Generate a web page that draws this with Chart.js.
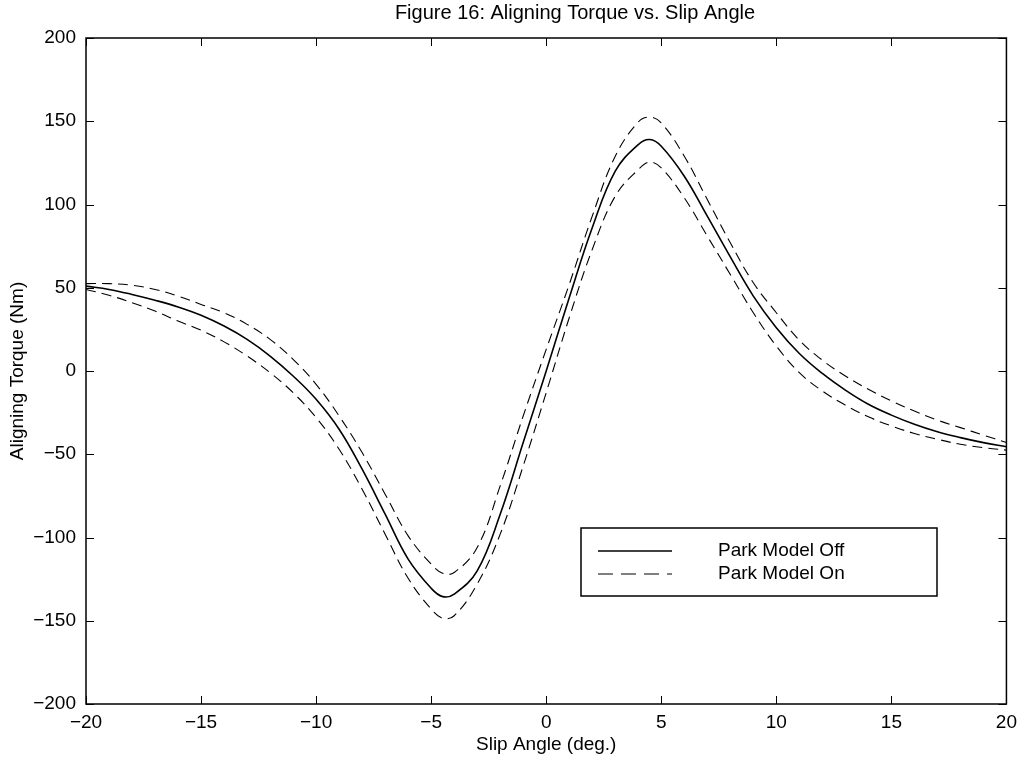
<!DOCTYPE html>
<html>
<head>
<meta charset="utf-8">
<script src="https://cdn.jsdelivr.net/npm/chart.js@4"></script>
<style>
  html, body { margin: 0; padding: 0; background: #fff; }
</style>
</head>
<body>
<canvas id="torqueChart" width="1024" height="760"></canvas>
<script>
const chartTitle = "Figure 16: Aligning Torque vs. Slip Angle";
const legendLabels = ["Park Model Off", "Park Model On"];

const slipAngle = [-20, -19, -18, -17, -16, -15, -14, -13, -12, -11, -10, -9, -8, -7, -6, -5, -4.5, -4, -3, -2, -1,
  0, 1, 2, 3, 4, 4.5, 5, 6, 7, 8, 9, 10, 11, 12, 13, 14, 15, 16, 17, 18, 19, 20];
const torqueOff = [51, 49, 46, 42.5, 38.5, 33.5, 27, 19, 9, -3, -17, -35, -59, -86, -113, -130.5, -135.5, -134, -120, -86, -43,
  0, 44, 86, 120, 136, 139, 135, 117, 93, 68.5, 45, 26, 10.5, -1.5, -11.5, -20, -26.5, -32, -36.5, -40, -43, -45.5];
const torqueOnHigh = [52.5, 52.5, 51.5, 49, 45, 40, 35, 28, 19, 7, -8, -27, -49, -74, -99, -116, -121.5, -121, -106, -69, -27,
  13, 52, 93, 129, 149.5, 152.5, 149, 129, 103, 77, 53, 35, 18.5, 6.5, -3, -11, -18, -24, -29.5, -34, -38.5, -43];
const torqueOnLow = [49, 45.5, 41, 36, 30, 24.5, 17.5, 9, -1, -13, -28, -47, -71, -98, -124.5, -143, -148.5, -147, -128, -98, -57,
  -13, 32, 73, 105, 121, 125.5, 122, 104, 81, 58, 35, 15, -1, -12, -20.5, -27.5, -33, -37.5, -41, -44, -46, -47.5];

const xTicks = [-20, -15, -10, -5, 0, 5, 10, 15, 20];
const yTicks = [-200, -150, -100, -50, 0, 50, 100, 150, 200];

const toPoints = (ys) => slipAngle.map((x, i) => ({ x: x, y: ys[i] }));
const minus = (v) => String(v).replace("-", "\u2212");

Chart.defaults.font.family = '"Liberation Sans", Arial, sans-serif';
Chart.defaults.color = "#000";

const framePlugin = {
  id: "frame",
  afterDraw(chart) {
    const ctx = chart.ctx;
    const { left, right, top, bottom } = chart.chartArea;
    const xs = chart.scales.x;
    const ys = chart.scales.y;
    ctx.save();
    ctx.strokeStyle = "#000";
    ctx.lineWidth = 1.5;
    ctx.strokeRect(left, top, right - left, bottom - top);

    // inward tick marks on all four sides
    ctx.lineWidth = 1;
    ctx.beginPath();
    xTicks.forEach((v) => {
      const px = Math.round(xs.getPixelForValue(v)) + 0.5;
      ctx.moveTo(px, bottom);
      ctx.lineTo(px, bottom - 8);
      ctx.moveTo(px, top);
      ctx.lineTo(px, top + 8);
    });
    yTicks.forEach((v) => {
      const py = Math.round(ys.getPixelForValue(v)) + 0.5;
      ctx.moveTo(left, py);
      ctx.lineTo(left + 8, py);
      ctx.moveTo(right, py);
      ctx.lineTo(right - 8, py);
    });
    ctx.stroke();

    ctx.fillStyle = "#000";
    ctx.font = '20px "Liberation Sans", Arial, sans-serif';
    ctx.textAlign = "center";
    ctx.textBaseline = "middle";
    ctx.fillText(chartTitle, 575, 13);

    // legend box
    const bx = 581, by = 528, bw = 356, bh = 68;
    ctx.fillStyle = "#fff";
    ctx.fillRect(bx, by, bw, bh);
    ctx.lineWidth = 1.5;
    ctx.strokeRect(bx, by, bw, bh);
    const rows = [551, 574];
    ctx.lineWidth = 1.3;
    ctx.beginPath();
    ctx.moveTo(598, rows[0]);
    ctx.lineTo(672, rows[0]);
    ctx.stroke();
    ctx.lineWidth = 1;
    ctx.setLineDash([15, 8]);
    ctx.beginPath();
    ctx.moveTo(598, rows[1]);
    ctx.lineTo(672, rows[1]);
    ctx.stroke();
    ctx.setLineDash([]);
    ctx.fillStyle = "#000";
    ctx.textAlign = "left";
    ctx.font = '19px "Liberation Sans", Arial, sans-serif';
    ctx.fillText(legendLabels[0], 718, rows[0]);
    ctx.fillText(legendLabels[1], 718, rows[1]);
    ctx.restore();
  },
};

const ctx = document.getElementById("torqueChart").getContext("2d");

const torqueChart = new Chart(ctx, {
  type: "line",
  data: {
    datasets: [
      {
        label: legendLabels[0],
        data: toPoints(torqueOff),
        borderColor: "#000",
        borderWidth: 1.6,
      },
      {
        label: legendLabels[1],
        data: toPoints(torqueOnHigh),
        borderColor: "#000",
        borderWidth: 1.1,
        borderDash: [10, 6],
      },
      {
        label: legendLabels[1],
        data: toPoints(torqueOnLow),
        borderColor: "#000",
        borderWidth: 1.1,
        borderDash: [10, 6],
      },
    ],
  },
  options: {
    responsive: false,
    animation: false,
    elements: {
      point: { radius: 0 },
      line: { tension: 0.4 },
    },
    layout: {
      padding: { top: 38, right: 16, left: 0, bottom: 0 },
    },
    scales: {
      x: {
        type: "linear",
        min: -20,
        max: 20,
        afterBuildTicks: (axis) => {
          axis.ticks = xTicks.map((v) => ({ value: v }));
        },
        afterFit: (scale) => {
          scale.height = 56;
        },
        grid: { display: false, drawTicks: false },
        border: { display: false },
        ticks: {
          padding: 7,
          maxRotation: 0,
          font: { size: 19 },
          callback: (v) => minus(v),
        },
        title: {
          display: true,
          text: "Slip Angle (deg.)",
          font: { size: 19 },
          padding: { top: 0, bottom: 4 },
        },
      },
      y: {
        type: "linear",
        min: -200,
        max: 200,
        afterBuildTicks: (axis) => {
          axis.ticks = yTicks.map((v) => ({ value: v }));
        },
        afterFit: (scale) => {
          scale.width = 86;
        },
        grid: { display: false, drawTicks: false },
        border: { display: false },
        ticks: {
          padding: 10,
          font: { size: 19 },
          callback: (v) => minus(v),
        },
        title: {
          display: true,
          text: "Aligning Torque (Nm)",
          font: { size: 19 },
          padding: { top: 6, bottom: 0 },
        },
      },
    },
    plugins: {
      legend: { display: false },
      title: { display: false },
      tooltip: { enabled: false },
    },
  },
  plugins: [framePlugin],
});
</script>
</body>
</html>
